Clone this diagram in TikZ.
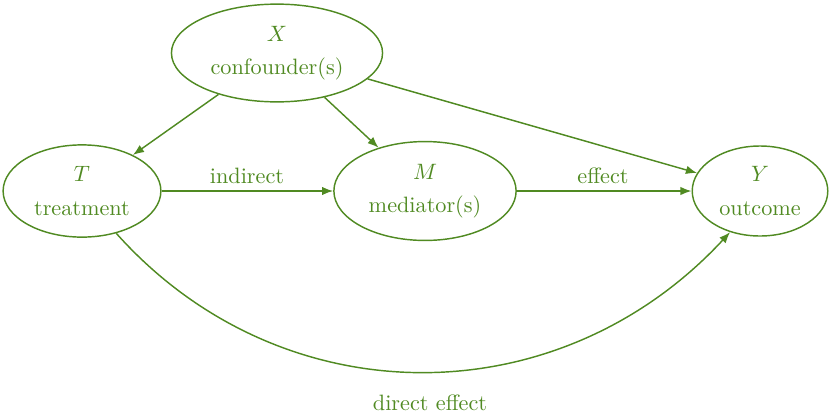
\documentclass[tikz,border=0pt]{standalone}
\usetikzlibrary{shapes.geometric,arrows.meta}
\definecolor{dgreen}{RGB}{80,138,34}
\begin{document}
\begin{tikzpicture}[x=0.45pt,y=-0.45pt,
  every node/.style={text=dgreen},
  ell/.style={ellipse,draw=dgreen,line width=0.65pt,inner sep=0pt,align=center},
  arr/.style={draw=dgreen,line width=0.65pt,-{Latex[length=5pt,width=3.8pt]}},
  lbl/.style={inner sep=1pt}]
\useasboundingbox (0,0) rectangle (829,416);
\node[ell,minimum width=95pt,minimum height=44pt] (X) at (277,53) {$X$\\[3pt]confounder(s)};
\node[ell,minimum width=71pt,minimum height=41.5pt] (T) at (82,191) {$T$\\[3pt]treatment};
\node[ell,minimum width=82pt,minimum height=44.5pt] (M) at (425,191) {$M$\\[3pt]mediator(s)};
\node[ell,minimum width=61pt,minimum height=40.5pt] (Y) at (760,191) {$Y$\\[3pt]outcome};
\draw[arr] (X) -- (T);
\draw[arr] (X) -- (M);
\draw[arr] (X) -- (Y);
\draw[arr] (T) -- (M);
\draw[arr] (M) -- (Y);
\draw[arr] (T.-51) .. controls (281,418) and (558,418) .. (Y.-126);
\node[lbl] (ind) at (247,176) {indirect};
\node[lbl] (eff) at (603,176) {effect};
\node[lbl] (dir) at (430,403) {direct effect};
\end{tikzpicture}
\end{document}
